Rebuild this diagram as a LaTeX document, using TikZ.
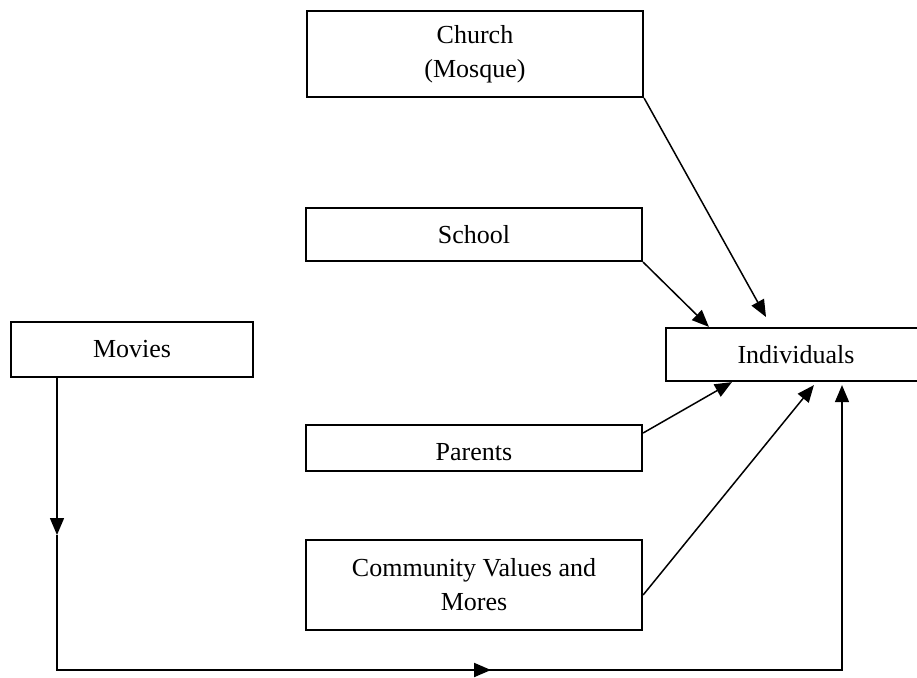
\documentclass[tikz,border=0pt]{standalone}
\usepackage{fontspec}
\setmainfont{Liberation Serif}
\usetikzlibrary{arrows.meta,calc}
\begin{document}
\begin{tikzpicture}[x=1pt,y=-1pt,
  box/.style={draw, line width=2.2pt, inner sep=0pt, align=center, font=\fontsize{26}{34}\selectfont},
  arr/.style={line width=1.5pt, -{Triangle[length=17pt,width=14pt]}},
  conn/.style={line width=1.5pt}]
\useasboundingbox (0,0) rectangle (917,677);
\node[box, minimum width=336pt, minimum height=86pt] (church) at (475,54) {Church\\(Mosque)};
\node[box, minimum width=336pt, minimum height=53pt] (school) at (474,234.5) {School};
\node[box, minimum width=242pt, minimum height=55pt] (movies) at (132,349.5) {Movies};
\node[box, minimum width=260pt, minimum height=53pt] (individuals) at (796,354.5) {Individuals};
\node[box, minimum width=336pt, minimum height=46pt, label={[font=\fontsize{26}{34}\selectfont, yshift=-4.5pt]center:Parents}] (parents) at (474,448) {};
\node[box, minimum width=336pt, minimum height=90pt] (community) at (474,585) {Community Values and\\Mores};
\coordinate (ct) at (766,317);
\coordinate (m1) at (57,535);
\coordinate (c1) at (57,670);
\coordinate (c2) at (842,670);
\coordinate (b1) at (378,670);
\coordinate (b2) at (491,670);
\draw[arr] (church.south east) -- (ct);
\draw[arr] (school.south east) -- ([xshift=44pt]individuals.north west);
\draw[arr] ([yshift=15pt]parents.east) -- ([xshift=67pt]individuals.south west);
\draw[arr] ([yshift=-10pt]community.east) -- ([xshift=149pt,yshift=-3pt]individuals.south west);
\draw[arr] (m1 |- movies.south) -- (m1);
\draw[arr] (m1) -- (c1) -- (c2) -- ([yshift=-3pt]c2 |- individuals.south);
\draw[arr, line width=2pt] (b1) -- (b2);
\end{tikzpicture}
\end{document}
